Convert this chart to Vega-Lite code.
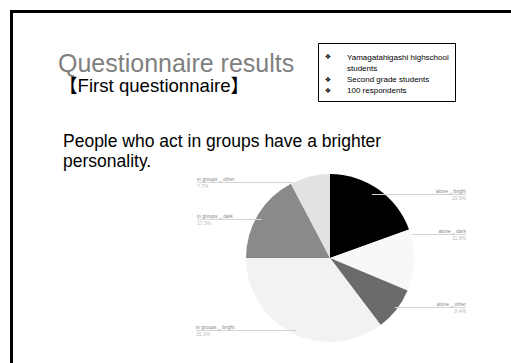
{
  "$schema": "https://vega.github.io/schema/vega-lite/v6.json",
  "width": 511,
  "height": 363,
  "autosize": {"type": "fit", "contains": "padding"},
  "padding": 0,
  "background": "white",
  "config": {"view": {"stroke": null}, "font": "Liberation Sans"},
  "layer": [
    {
      "data": {"values": [{}]},
      "mark": {"type": "rect", "x": 11.5, "y": 11.5, "x2": 530, "y2": 380, "fill": null, "stroke": "black", "strokeWidth": 3},
      "encoding": {}
    },
    {
      "data": {"values": [
        {"category": "alone _ bright", "rank": 1, "percent": 19.5},
        {"category": "alone _ dark", "rank": 2, "percent": 11.8},
        {"category": "alone _ other", "rank": 3, "percent": 8.4},
        {"category": "in groups _ bright", "rank": 4, "percent": 35.3},
        {"category": "in groups _ dark", "rank": 5, "percent": 17.3},
        {"category": "in groups _ other", "rank": 6, "percent": 7.7}
      ]},
      "mark": {"type": "arc", "x": 330, "y": 258, "outerRadius": 84},
      "encoding": {
        "theta": {"field": "percent", "type": "quantitative", "stack": true},
        "order": {"field": "rank", "type": "quantitative"},
        "color": {"field": "category", "type": "nominal", "legend": null,
          "scale": {"domain": ["alone _ bright", "alone _ dark", "alone _ other", "in groups _ bright", "in groups _ dark", "in groups _ other"],
                    "range": ["#000000", "#f8f8f8", "#6b6b6b", "#f2f2f2", "#8a8a8a", "#e2e2e2"]}}
      }
    },
    {"data": {"values": [{}]}, "mark": {"type": "rule", "stroke": "#d4d4d4", "strokeWidth": 1}, "encoding": {"x": {"value": 197}, "x2": {"value": 292}, "y": {"value": 182.5}, "y2": {"value": 182.5}}},
    {"data": {"values": [{}]}, "mark": {"type": "rule", "stroke": "#d4d4d4", "strokeWidth": 1}, "encoding": {"x": {"value": 197}, "x2": {"value": 262}, "y": {"value": 219.5}, "y2": {"value": 219.5}}},
    {"data": {"values": [{}]}, "mark": {"type": "rule", "stroke": "#d4d4d4", "strokeWidth": 1}, "encoding": {"x": {"value": 196}, "x2": {"value": 296}, "y": {"value": 330.5}, "y2": {"value": 330.5}}},
    {"data": {"values": [{}]}, "mark": {"type": "rule", "stroke": "#d4d4d4", "strokeWidth": 1}, "encoding": {"x": {"value": 372}, "x2": {"value": 466}, "y": {"value": 194.5}, "y2": {"value": 194.5}}},
    {"data": {"values": [{}]}, "mark": {"type": "rule", "stroke": "#d4d4d4", "strokeWidth": 1}, "encoding": {"x": {"value": 412}, "x2": {"value": 466}, "y": {"value": 234.5}, "y2": {"value": 234.5}}},
    {"data": {"values": [{}]}, "mark": {"type": "rule", "stroke": "#d4d4d4", "strokeWidth": 1}, "encoding": {"x": {"value": 395}, "x2": {"value": 466}, "y": {"value": 307.5}, "y2": {"value": 307.5}}},
    {"data": {"values": [{}]}, "mark": {"type": "text", "text": "in groups _ other", "x": 197, "y": 181, "align": "left", "baseline": "alphabetic", "fontSize": 5, "fill": "#888888"}, "encoding": {}},
    {"data": {"values": [{}]}, "mark": {"type": "text", "text": "7.7%", "x": 197, "y": 188, "align": "left", "baseline": "alphabetic", "fontSize": 5, "fill": "#bbbbbb"}, "encoding": {}},
    {"data": {"values": [{}]}, "mark": {"type": "text", "text": "in groups _ dark", "x": 197, "y": 218, "align": "left", "baseline": "alphabetic", "fontSize": 5, "fill": "#888888"}, "encoding": {}},
    {"data": {"values": [{}]}, "mark": {"type": "text", "text": "17.3%", "x": 197, "y": 225, "align": "left", "baseline": "alphabetic", "fontSize": 5, "fill": "#bbbbbb"}, "encoding": {}},
    {"data": {"values": [{}]}, "mark": {"type": "text", "text": "in groups _ bright", "x": 196, "y": 329, "align": "left", "baseline": "alphabetic", "fontSize": 5, "fill": "#888888"}, "encoding": {}},
    {"data": {"values": [{}]}, "mark": {"type": "text", "text": "35.3%", "x": 196, "y": 336, "align": "left", "baseline": "alphabetic", "fontSize": 5, "fill": "#bbbbbb"}, "encoding": {}},
    {"data": {"values": [{}]}, "mark": {"type": "text", "text": "alone _ bright", "x": 466, "y": 193, "align": "right", "baseline": "alphabetic", "fontSize": 5, "fill": "#888888"}, "encoding": {}},
    {"data": {"values": [{}]}, "mark": {"type": "text", "text": "19.5%", "x": 466, "y": 200, "align": "right", "baseline": "alphabetic", "fontSize": 5, "fill": "#bbbbbb"}, "encoding": {}},
    {"data": {"values": [{}]}, "mark": {"type": "text", "text": "alone _ dark", "x": 466, "y": 233, "align": "right", "baseline": "alphabetic", "fontSize": 5, "fill": "#888888"}, "encoding": {}},
    {"data": {"values": [{}]}, "mark": {"type": "text", "text": "11.8%", "x": 466, "y": 240, "align": "right", "baseline": "alphabetic", "fontSize": 5, "fill": "#bbbbbb"}, "encoding": {}},
    {"data": {"values": [{}]}, "mark": {"type": "text", "text": "alone _ other", "x": 466, "y": 306, "align": "right", "baseline": "alphabetic", "fontSize": 5, "fill": "#888888"}, "encoding": {}},
    {"data": {"values": [{}]}, "mark": {"type": "text", "text": "8.4%", "x": 466, "y": 313, "align": "right", "baseline": "alphabetic", "fontSize": 5, "fill": "#bbbbbb"}, "encoding": {}},
    {"data": {"values": [{}]}, "mark": {"type": "text", "text": "Questionnaire results", "x": 58, "y": 72, "align": "left", "baseline": "alphabetic", "fontSize": 25, "fill": "#808080"}, "encoding": {}},
    {"data": {"values": [{}]}, "mark": {"type": "text", "text": "【First questionnaire】", "x": 59, "y": 92, "align": "left", "baseline": "alphabetic", "fontSize": 18.6, "fill": "#000000", "font": "Liberation Sans, Noto Sans CJK JP"}, "encoding": {}},
    {"data": {"values": [{}]}, "mark": {"type": "rect", "x": 318.5, "y": 43.5, "x2": 455.5, "y2": 101.5, "fill": "white", "stroke": "black", "strokeWidth": 1}, "encoding": {}},
    {"data": {"values": [{}]}, "mark": {"type": "text", "text": "❖", "x": 328, "y": 59, "align": "center", "baseline": "alphabetic", "fontSize": 7, "fill": "#000000", "font": "DejaVu Sans"}, "encoding": {}},
    {"data": {"values": [{}]}, "mark": {"type": "text", "text": "❖", "x": 328, "y": 82, "align": "center", "baseline": "alphabetic", "fontSize": 7, "fill": "#000000", "font": "DejaVu Sans"}, "encoding": {}},
    {"data": {"values": [{}]}, "mark": {"type": "text", "text": "❖", "x": 328, "y": 93, "align": "center", "baseline": "alphabetic", "fontSize": 7, "fill": "#000000", "font": "DejaVu Sans"}, "encoding": {}},
    {"data": {"values": [{}]}, "mark": {"type": "text", "text": ["Yamagatahigashi highschool", "students", "Second grade students", "100 respondents"], "x": 347, "y": 60, "align": "left", "baseline": "alphabetic", "fontSize": 8, "lineHeight": 11, "fill": "#000000"}, "encoding": {}},
    {"data": {"values": [{}]}, "mark": {"type": "text", "text": ["People who act in groups have a brighter", "personality."], "x": 63, "y": 147, "align": "left", "baseline": "alphabetic", "fontSize": 17.5, "lineHeight": 20, "fill": "#000000"}, "encoding": {}}
  ]
}
